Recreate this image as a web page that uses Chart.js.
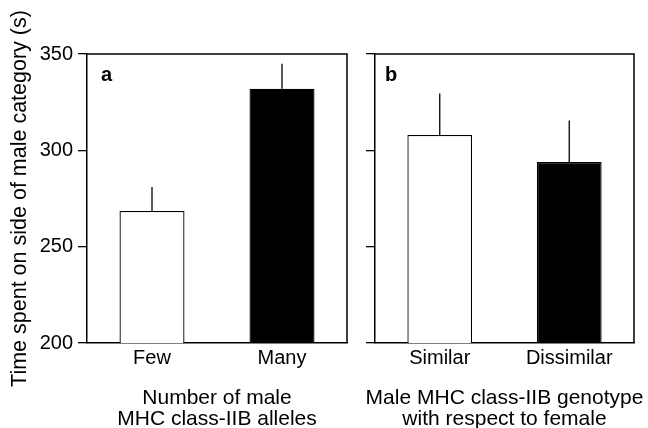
<!DOCTYPE html>
<html>
<head>
<meta charset="utf-8">
<script src="https://cdn.jsdelivr.net/npm/chart.js@4/dist/chart.umd.min.js"></script>
<style>
  body { margin: 0; background: #fff; }
  #wrap { position: relative; width: 648px; height: 428px; }
  #chartA { position: absolute; left: 0; top: 0; }
  #chartB { position: absolute; left: 360px; top: 0; }
</style>
</head>
<body>
<div id="wrap">
  <canvas id="chartA" width="360" height="428"></canvas>
  <canvas id="chartB" width="288" height="428"></canvas>
</div>
<script>
// Data
const categoriesA = ['Few', 'Many'];
const meansA = [268.5, 332];
const errorsA = [12.5, 13];

const categoriesB = ['Similar', 'Dissimilar'];
const meansB = [308, 294];
const errorsB = [21.5, 21.5];

const barColors = ['#ffffff', '#000000'];
const yTicks = [200, 250, 300, 350];

const yTitle = 'Time spent on side of male category (s)';
const xTitleA = ['Number of male', 'MHC class-IIB alleles'];
const xTitleB = ['Male MHC class-IIB genotype', 'with respect to female'];

const FONT = '"Liberation Sans", Arial, sans-serif';

// frame + upper error whiskers + panel letter + x title
// (x title drawn here so Chart.js doesn't squeeze it to the axis width)
const extrasPlugin = {
  id: 'extras',
  afterDatasetsDraw(chart, args, opts) {
    const ctx = chart.ctx;
    const area = chart.chartArea;
    const x = chart.scales.x;
    const y = chart.scales.y;
    const ds = chart.data.datasets[0];

    ctx.save();
    ctx.strokeStyle = '#000';
    ctx.lineWidth = 1.3;
    opts.errors.forEach((err, i) => {
      const px = x.getPixelForValue(i);
      ctx.beginPath();
      ctx.moveTo(px, y.getPixelForValue(ds.data[i]));
      ctx.lineTo(px, y.getPixelForValue(ds.data[i] + err));
      ctx.stroke();
    });

    // top and right sides of the box
    ctx.lineWidth = 1.5;
    ctx.beginPath();
    ctx.moveTo(area.left, area.top);
    ctx.lineTo(area.right, area.top);
    ctx.lineTo(area.right, area.bottom);
    ctx.stroke();

    ctx.fillStyle = '#000';
    ctx.font = 'bold 20px ' + FONT;
    ctx.textBaseline = 'alphabetic';
    ctx.fillText(opts.letter, area.left + opts.letterX, area.top + 27);

    ctx.font = opts.titleSize + 'px ' + FONT;
    ctx.textAlign = 'center';
    const cx = (x.left + x.right) / 2;
    const lines = opts.title;
    lines.forEach((line, i) => {
      ctx.fillText(line, cx, x.bottom - 3 - (lines.length - 1 - i) * 21);
    });
    ctx.restore();
  }
};

function makePanel(canvasId, categories, means, errors, opts) {
  return new Chart(document.getElementById(canvasId), {
    type: 'bar',
    data: {
      labels: categories,
      datasets: [{
        data: means,
        backgroundColor: barColors,
        borderColor: '#000',
        borderWidth: 1.3,
        borderSkipped: false,
        barPercentage: 0.5,
        categoryPercentage: 1
      }]
    },
    options: {
      responsive: false,
      animation: false,
      layout: { padding: { top: 54, right: opts.right, left: 0, bottom: 0 } },
      plugins: {
        legend: { display: false },
        tooltip: { enabled: false },
        extras: {
          errors: errors,
          letter: opts.letter,
          letterX: opts.letterX,
          title: opts.xTitle,
          titleSize: opts.titleSize
        }
      },
      scales: {
        x: {
          grid: { display: false, drawTicks: false },
          border: { color: '#000', width: 1.5 },
          ticks: { color: '#000', font: { family: FONT, size: 20 }, padding: 3 },
          afterFit(scale) { scale.height = 85; }
        },
        y: {
          min: 200,
          max: 350,
          afterBuildTicks(scale) { scale.ticks = yTicks.map(v => ({ value: v })); },
          grid: { drawOnChartArea: false, tickLength: 9, color: '#000', lineWidth: 1.3 },
          border: { color: '#000', width: 1.5 },
          ticks: {
            display: opts.showLabels,
            color: '#000',
            font: { family: FONT, size: 20 },
            padding: 5
          },
          title: {
            display: opts.showLabels,
            text: yTitle,
            color: '#000',
            font: { family: FONT, size: 21.5 },
            padding: { top: 7, bottom: 0 }
          },
          afterFit(scale) { scale.width = opts.yWidth; }
        }
      }
    },
    plugins: [extrasPlugin]
  });
}

makePanel('chartA', categoriesA, meansA, errorsA,
  { right: 13, yWidth: 87, showLabels: true, xTitle: xTitleA, titleSize: 21, letter: 'a', letterX: 14 });
makePanel('chartB', categoriesB, meansB, errorsB,
  { right: 14, yWidth: 15, showLabels: false, xTitle: xTitleB, titleSize: 21, letter: 'b', letterX: 10 });
</script>
</body>
</html>
